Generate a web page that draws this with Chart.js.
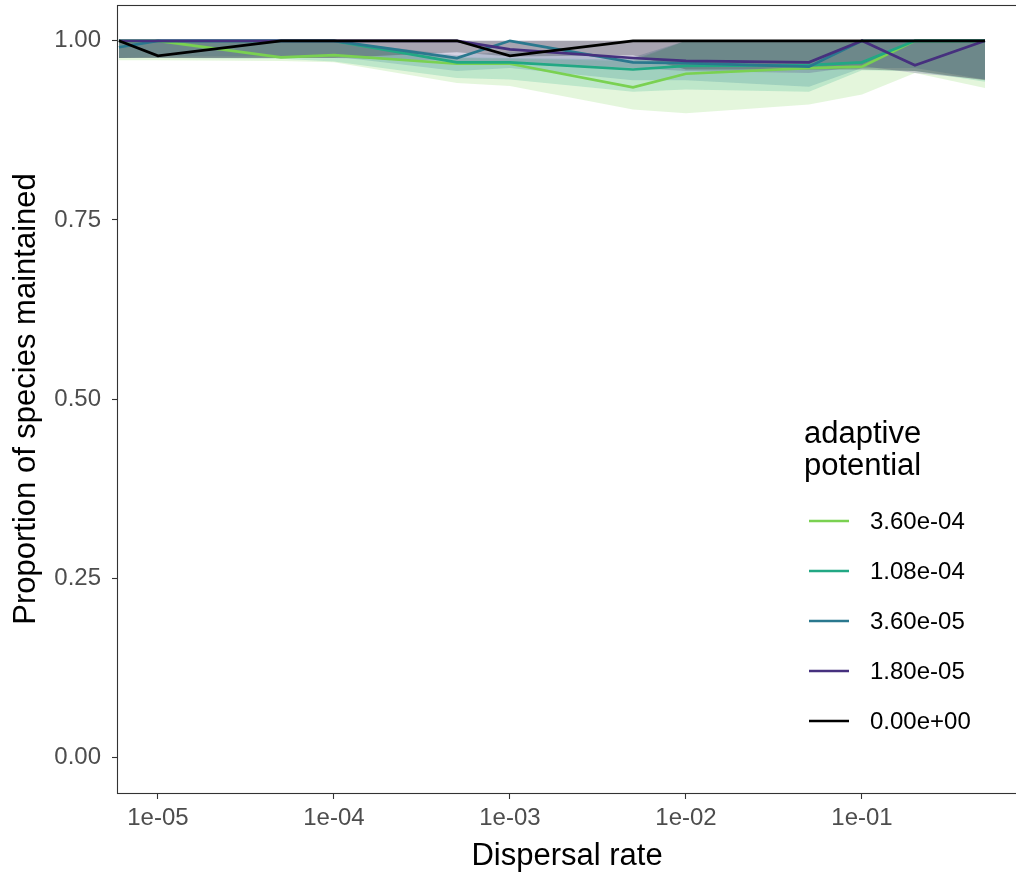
<!DOCTYPE html>
<html>
<head>
<meta charset="utf-8">
<script src="https://cdn.jsdelivr.net/npm/chart.js@4/dist/chart.umd.min.js"></script>
<style>
  html, body { margin: 0; padding: 0; background: #fff; overflow: hidden; }
  #wrap { width: 1016px; height: 873px; }
</style>
</head>
<body>
<div id="wrap"><canvas id="speciesChart" width="1016" height="873"></canvas></div>
<script>
// Proportion of species maintained vs dispersal rate, one line + band per adaptive potential
const dispersal = [6e-6, 1e-5, 5e-5, 1e-4, 5e-4, 1e-3, 5e-3, 1e-2, 5e-2, 1e-1, 2e-1, 5e-1];

const potentials = ['0.00e+00', '1.80e-05', '3.60e-05', '1.08e-04', '3.60e-04'];
const colors = ['#000000', '#46307E', '#2A788E', '#22A884', '#7AD151'];
const bandColors = ['rgba(0,0,0,0.22)', 'rgba(70,48,126,0.22)', 'rgba(42,120,142,0.2)', 'rgba(34,168,132,0.2)', 'rgba(122,209,81,0.2)'];

// median proportion per dispersal rate
const pot0     = [1, 0.979, 1, 1, 1, 0.979, 1, 1, 1, 1, 1, 1];
const pot18e6  = [1, 1, 1, 1, 1, 0.988, 0.976, 0.972, 0.970, 1, 0.966, 1];
const pot36e6  = [0.991, 1, 1, 1, 0.976, 1, 0.970, 0.969, 0.964, 1, 1, 1];
const pot108e5 = [1, 1, 1, 1, 0.970, 0.970, 0.960, 0.965, 0.966, 0.970, 1, 1];
const pot36e5  = [1, 1, 0.977, 0.980, 0.968, 0.968, 0.935, 0.954, 0.962, 0.964, 1, 1];

// band edges per dispersal rate
const low0     = [0.976, 0.976, 0.976, 0.976, 0.984, 0.978, 0.980, 0.960, 0.960, 0.960, 0.958, 0.945];
const up0      = [1, 1, 1, 1, 1, 1, 1, 1, 1, 1, 1, 1];
const low18e6  = [0.976, 0.976, 0.976, 0.976, 0.972, 0.968, 0.962, 0.958, 0.955, 0.965, 0.955, 0.946];
const up18e6   = [1, 1, 1, 1, 1, 1, 1, 1, 1, 1, 1, 1];
const low36e6  = [0.976, 0.978, 0.978, 0.978, 0.958, 0.962, 0.945, 0.945, 0.936, 0.962, 0.962, 0.946];
const up36e6   = [1, 1, 1, 1, 0.980, 0.985, 0.977, 1, 1, 1, 1, 1];
const low108e5 = [0.976, 0.976, 0.975, 0.971, 0.948, 0.946, 0.929, 0.932, 0.929, 0.959, 0.958, 0.943];
const up108e5  = [1, 1, 1, 1, 0.977, 0.976, 0.974, 1, 1, 1, 1, 1];
const low36e5  = [0.973, 0.973, 0.972, 0.970, 0.941, 0.937, 0.904, 0.899, 0.911, 0.925, 0.955, 0.934];
const up36e5   = [1, 1, 1, 1, 0.976, 0.975, 0.972, 1, 1, 1, 1, 1];

const xTicks = [1e-5, 1e-4, 1e-3, 1e-2, 1e-1];
const xTickLabels = ['1e-05', '1e-04', '1e-03', '1e-02', '1e-01'];
const yTicks = [0, 0.25, 0.5, 0.75, 1];

const means = [pot0, pot18e6, pot36e6, pot108e5, pot36e5];
const lows = [low0, low18e6, low36e6, low108e5, low36e5];
const ups = [up0, up18e6, up36e6, up108e5, up36e5];

const pts = arr => arr.map((v, i) => ({ x: dispersal[i], y: v }));

const datasets = [];
means.forEach((m, k) => {
  datasets.push({
    label: potentials[k],
    data: pts(m),
    borderColor: colors[k],
    borderWidth: 2.7,
    pointRadius: 0,
    tension: 0,
    fill: false
  });
});
// each band = invisible upper edge + lower edge filled up to it
lows.forEach((l, k) => {
  datasets.push({
    label: potentials[k] + ' upper',
    data: pts(ups[k]),
    borderWidth: 0,
    borderColor: 'rgba(0,0,0,0)',
    pointRadius: 0,
    tension: 0,
    fill: false
  });
  datasets.push({
    label: potentials[k] + ' lower',
    data: pts(l),
    borderWidth: 0,
    borderColor: 'rgba(0,0,0,0)',
    backgroundColor: bandColors[k],
    pointRadius: 0,
    tension: 0,
    fill: '-1'
  });
});

Chart.defaults.font.family = '"Liberation Sans", Arial, sans-serif';

// scales should not reserve room for half-labels at the ends
const noEdgePadding = s => {
  s.paddingTop = 0; s.paddingBottom = 0;
  s.paddingLeft = 0; s.paddingRight = 0;
};

const panelBorder = {
  id: 'panelBorder',
  afterDraw(chart) {
    const { ctx, chartArea: a } = chart;
    ctx.save();
    ctx.strokeStyle = '#333333';
    ctx.lineWidth = 1.1;
    ctx.strokeRect(a.left - 0.5, a.top + 0.5, a.right - a.left + 20, a.bottom - a.top);
    ctx.restore();
  }
};

const panelLegend = {
  id: 'panelLegend',
  afterDraw(chart) {
    const ctx = chart.ctx;
    ctx.save();
    ctx.fillStyle = '#000';
    ctx.textAlign = 'left';
    ctx.textBaseline = 'alphabetic';
    ctx.font = '31px "Liberation Sans", Arial, sans-serif';
    ctx.fillText('adaptive', 804, 443);
    ctx.fillText('potential', 804, 475);
    ctx.font = '24px "Liberation Sans", Arial, sans-serif';
    ctx.textBaseline = 'middle';
    for (let i = 0; i < potentials.length; i++) {
      const k = potentials.length - 1 - i;
      const y = 521 + i * 50;
      ctx.strokeStyle = colors[k];
      ctx.lineWidth = 2.7;
      ctx.beginPath();
      ctx.moveTo(809, y);
      ctx.lineTo(849, y);
      ctx.stroke();
      ctx.fillStyle = '#000';
      ctx.fillText(potentials[k], 870, y + 1);
    }
    ctx.restore();
  }
};

new Chart(document.getElementById('speciesChart'), {
  type: 'line',
  data: { datasets },
  plugins: [panelBorder, panelLegend],
  options: {
    responsive: false,
    animation: false,
    devicePixelRatio: 1,
    layout: { padding: { top: 5, right: 0, bottom: 0, left: 0 } },
    plugins: {
      legend: { display: false },
      tooltip: { enabled: false },
      filler: { drawTime: 'beforeDatasetsDraw' }
    },
    scales: {
      x: {
        type: 'logarithmic',
        min: 5.93e-6,
        max: 0.75,
        afterBuildTicks: s => { s.ticks = xTicks.map(v => ({ value: v })); },
        afterFit: s => { s.height = 80; noEdgePadding(s); },
        ticks: {
          autoSkip: false,
          maxRotation: 0,
          padding: 5,
          color: '#4D4D4D',
          font: { size: 24 },
          callback: (v, i) => xTickLabels[i]
        },
        grid: { drawOnChartArea: false, tickLength: 6, tickColor: '#333333', tickWidth: 1.1 },
        border: { display: false },
        title: {
          display: true,
          text: 'Dispersal rate',
          color: '#000',
          font: { size: 31, lineHeight: 1.0 },
          padding: { top: 0, bottom: 1 }
        }
      },
      y: {
        min: -0.05,
        max: 1.05,
        afterBuildTicks: s => { s.ticks = yTicks.map(v => ({ value: v })); },
        afterFit: s => { s.width = 118; noEdgePadding(s); },
        ticks: {
          padding: 11,
          color: '#4D4D4D',
          font: { size: 24 },
          callback: v => v.toFixed(2)
        },
        grid: { drawOnChartArea: false, tickLength: 6, tickColor: '#333333', tickWidth: 1.1 },
        border: { display: false },
        title: {
          display: true,
          text: 'Proportion of species maintained',
          color: '#000',
          font: { size: 31 },
          padding: { top: 8, bottom: 0 }
        }
      }
    }
  }
});
</script>
</body>
</html>
